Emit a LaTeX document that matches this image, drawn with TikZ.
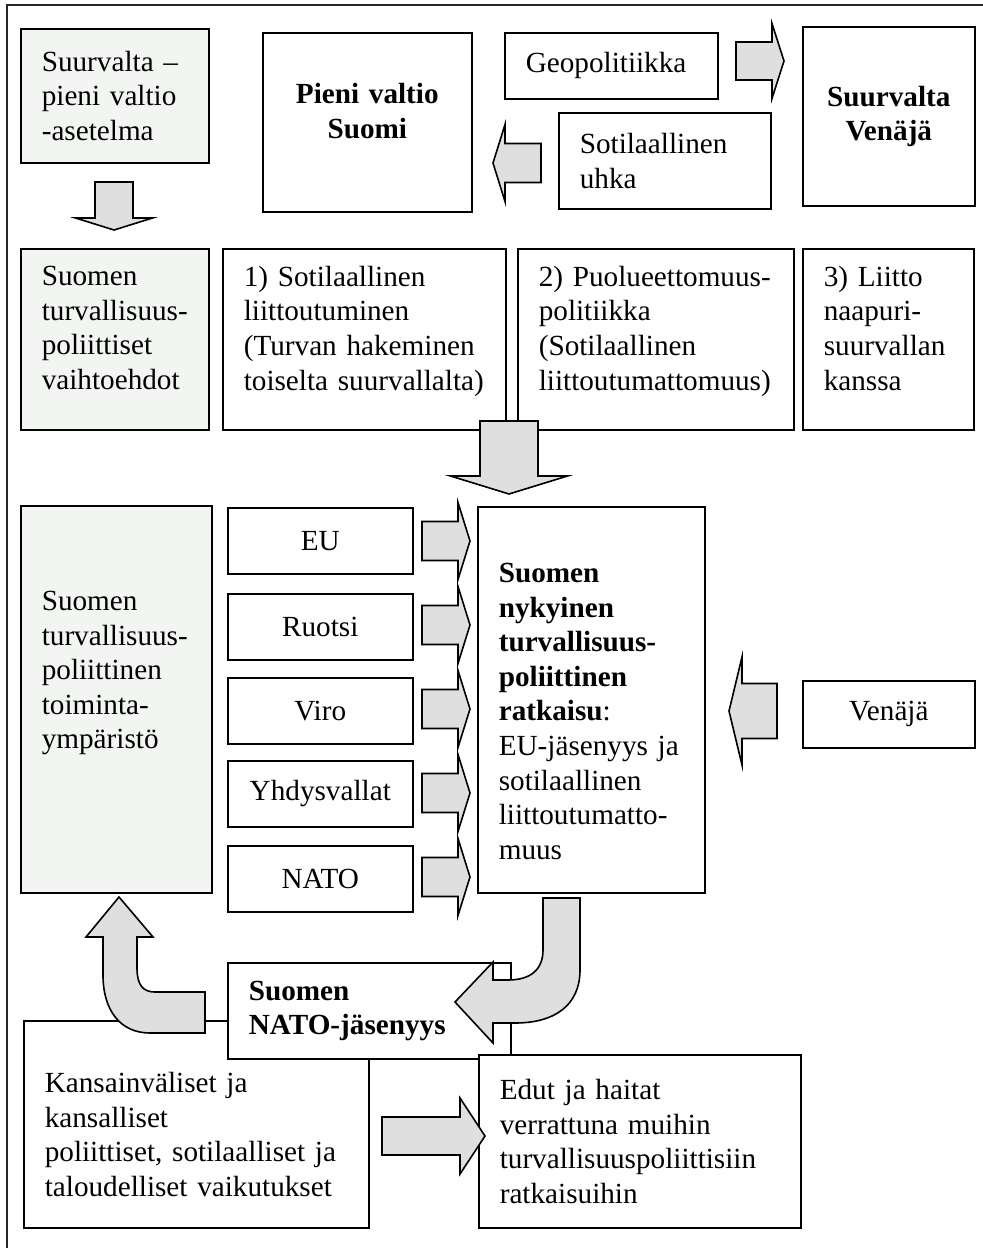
\documentclass[tikz,border=0pt]{standalone}
\usepackage{fontspec}
\setmainfont{Liberation Serif}

\definecolor{boxgray}{HTML}{F3F5F3}
\definecolor{arrowgray}{HTML}{DFDFDF}

% block arrow: rotation, start x, start y, body length, body half width, head half width, head length
\newcommand{\blockarrow}[7]{%
  \draw[arrowshape, shift={(#2,#3)}, rotate=#1]
    (0,-#5) -- (#4,-#5) -- (#4,-#6) -- ({#4+#7},0) -- (#4,#6) -- (#4,#5) -- (0,#5) -- cycle;}

\begin{document}
\begin{tikzpicture}[
    x=0.5pt, y=-0.5pt,
    line width=0.8pt,
    font=\fontsize{14.6}{17.3}\selectfont,
    box/.style={draw, fill=white, anchor=north west, inner xsep=10.5pt, inner ysep=0pt, align=left},
    shaded/.style={box, fill=boxgray},
    partner/.style={box, align=center, text width=71.5pt, minimum height=33pt},
    arrowshape/.style={draw, fill=arrowgray, line join=miter}
]
\useasboundingbox (0,0) rectangle (983,1248);

% Outer frame
\draw[black!85] (7,1260) -- (7,5) -- (995,5);

% Top row
\node[shaded, text width=73pt, minimum height=67pt] (setting) at (20,28) {Suurvalta –\\ pieni valtio\\ -asetelma};
\node[box, align=center, text width=83.5pt, minimum height=89.5pt] (finland) at (262,32) {\bfseries Pieni valtio\\ Suomi\\[-6pt]\mbox{}};
\node[box, text width=85.5pt, minimum height=33pt] (geopol) at (504,32) {Geopolitiikka};
\node[box, text width=85pt, minimum height=48pt] (threat) at (558,112) {Sotilaallinen\\ uhka};
\node[box, align=center, text width=65pt, minimum height=89.5pt] (power) at (802,26) {\bfseries Suurvalta\\ Venäjä};

% Second row: the options
\node[shaded, text width=73pt, minimum height=90.5pt] (options) at (20,248) {Suomen\\ turvallisuus-\\ poliittiset\\ vaihtoehdot\\[-6pt]\mbox{}};
\node[box, text width=120.5pt, minimum height=90.5pt] (alliance) at (222,248) {1) Sotilaallinen\\ liittoutuminen\\ (Turvan hakeminen\\ toiselta~suurvallalta)\\[-6pt]\mbox{}};
\node[box, text width=117pt, minimum height=90.5pt] (neutral) at (517,248) {2) Puolueettomuus-\\ politiikka\\ (Sotilaallinen\\ liittoutumattomuus)\\[-6pt]\mbox{}};
\node[box, text width=64.5pt, minimum height=90.5pt] (pact) at (802,248) {3) Liitto\\ naapuri-\\ suurvallan\\ kanssa\\[-6pt]\mbox{}};

% Third row: environment and the present solution
\node[shaded, text width=74.5pt, minimum height=193.5pt] (environment) at (20,505) {Suomen\\ turvallisuus-\\ poliittinen\\ toiminta-\\ ympäristö\\[12pt]\mbox{}};
\node[partner] (eu) at (227,507) {EU};
\node[partner] (sweden) at (227,593) {Ruotsi};
\node[partner] (estonia) at (227,677) {Viro};
\node[partner] (usa) at (227,760) {Yhdysvallat};
\node[partner] (nato) at (227,845) {NATO};
\node[box, text width=92.5pt, minimum height=193pt] (solution) at (477,506) {\mbox{}\\[4pt]\bfseries Suomen\\ nykyinen\\ turvallisuus-\\ poliittinen\\ ratkaisu\mdseries:\\ EU-jäsenyys ja\\ sotilaallinen\\ liittoutumatto-\\ muus};
\node[partner, text width=65pt, minimum height=33.5pt] (russia) at (802,680) {Venäjä};

% Bottom: membership and its effects
\node[box, text width=151.5pt, minimum height=103.5pt] (effects) at (23,1020) {\mbox{}\\[3pt]Kansainväliset ja\\ kansalliset\\ poliittiset, sotilaalliset~ja\\ taloudelliset vaikutukset};
\node[box, text width=120.5pt, minimum height=48pt] (membership) at (227,962) {\bfseries Suomen\\ NATO-jäsenyys};
\node[box, text width=140pt, minimum height=86.5pt] (comparison) at (478,1054) {Edut ja haitat\\ verrattuna muihin\\ turvallisuuspoliittisiin\\ ratkaisuihin};

% Straight block arrows
\blockarrow{-90}{114}{182}{36}{19}{38.5}{12}
\blockarrow{0}{736}{61}{36}{19}{37.5}{12}
\blockarrow{180}{541}{163}{36}{19.5}{38.5}{12}
\blockarrow{-90}{509}{421}{55}{29}{58.5}{18}
\blockarrow{0}{422}{541}{36}{19.5}{38.5}{12}
\blockarrow{0}{422}{625}{36}{19.5}{38.5}{12}
\blockarrow{0}{422}{709}{36}{19.5}{38.5}{12}
\blockarrow{0}{422}{793}{36}{19.5}{38.5}{12}
\blockarrow{0}{422}{877}{36}{19.5}{38.5}{12}
\blockarrow{180}{777}{711}{35}{27.5}{54}{13}
\blockarrow{0}{382}{1136}{78}{19}{38}{25}

% Bent arrows
\draw[arrowshape] (543,898) -- (580,898) -- (580,970) .. controls (580,1005) and (555,1023) .. (515,1023)
  -- (493,1023) -- (493,1043) -- (455,1002) -- (493,962) -- (493,980) -- (508,980)
  .. controls (530,980) and (543,970) .. (543,950) -- cycle;
\draw[arrowshape] (119,897) -- (153,937) -- (137,937) -- (137,968) .. controls (137,985) and (143,992) .. (155,992)
  -- (205,992) -- (205,1033) -- (150,1033) .. controls (120,1033) and (103,1010) .. (103,975)
  -- (103,937) -- (86,937) -- cycle;

\end{tikzpicture}
\end{document}
